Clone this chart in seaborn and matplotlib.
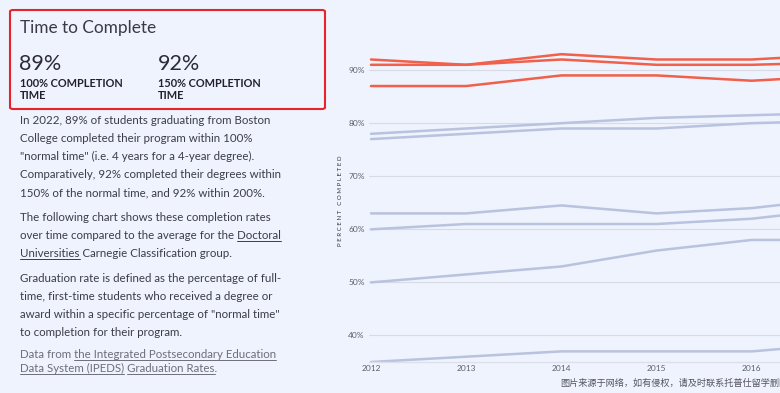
import numpy as np
import pandas as pd
import matplotlib.pyplot as plt
import seaborn as sns
from matplotlib.patches import FancyBboxPatch
from matplotlib.lines import Line2D

# completion rates (percent)
years = [2012, 2013, 2014, 2015, 2016, 2017]
bc_150 = [92, 91, 93, 92, 92, 93]
bc_200 = [91, 91, 92, 91, 91, 91.5]
bc_100 = [87, 87, 89, 89, 88, 89]
peer_1 = [78, 79, 80, 81, 81.5, 82]
peer_2 = [77, 78, 79, 79, 80, 80.5]
peer_3 = [63, 63, 64.5, 63, 64, 66]
peer_4 = [60, 61, 61, 61, 62, 64]
peer_5 = [50, 51.5, 53, 56, 58, 58]
peer_6 = [35, 36, 37, 37, 37, 38.5]
y_ticks = [40, 50, 60, 70, 80, 90]
x_ticks = [2012, 2013, 2014, 2015, 2016]

headline_vals = ['89%', '92%']
headline_labels = [('100% COMPLETION', 'TIME'), ('150% COMPLETION', 'TIME')]

BG = '#eef3fd'
RED = '#f0604a'
PURPLE = '#b9c2de'
TEXT = '#3c3c4a'
GREY = '#6e6e7c'

sns.set_theme(style='white')
plt.rcParams['font.family'] = ['Lato', 'Noto Sans CJK SC', 'DejaVu Sans']

W, H = 780, 393
def fx(x):
    return x / W
def fy(y):
    return 1 - y / H

series = {
    ('bc_150', 'Boston College'): bc_150,
    ('bc_200', 'Boston College'): bc_200,
    ('bc_100', 'Boston College'): bc_100,
    ('peer_1', 'Doctoral Universities'): peer_1,
    ('peer_2', 'Doctoral Universities'): peer_2,
    ('peer_3', 'Doctoral Universities'): peer_3,
    ('peer_4', 'Doctoral Universities'): peer_4,
    ('peer_5', 'Doctoral Universities'): peer_5,
    ('peer_6', 'Doctoral Universities'): peer_6,
}
rows = []
for (name, group), vals in series.items():
    for yr, v in zip(years, vals):
        rows.append({'year': yr, 'pct': v, 'series': name, 'group': group})
df = pd.DataFrame(rows)

fig = plt.figure(figsize=(W / 100, H / 100), dpi=100, facecolor=BG)

# chart on the right, cut off at the right edge like the screenshot
ax = fig.add_axes([fx(369), fy(362), fx(780) - fx(369), fy(30) - fy(362)])
ax.set_facecolor(BG)
sns.lineplot(data=df, x='year', y='pct', hue='group', units='series', estimator=None,
             palette={'Boston College': RED, 'Doctoral Universities': PURPLE},
             hue_order=['Doctoral Universities', 'Boston College'],
             linewidth=1.8, legend=False, ax=ax)
ax.set_xlim(2012 - 2 / 95.2, 2012 + 409 / 95.2)
ax.set_ylim(35, 35 + 332 / 5.307)
ax.set_yticks(y_ticks)
ax.set_yticklabels([f'{t}%' for t in y_ticks])
ax.set_xticks(x_ticks)
ax.set_xticklabels([str(t) for t in x_ticks])
ax.grid(axis='y', color='#d8dbe4', linewidth=0.8)
ax.tick_params(axis='both', length=0, labelsize=6, labelcolor='#5c6070')
ax.tick_params(axis='y', pad=3)
ax.tick_params(axis='x', pad=2.5)
ax.set_xlabel('')
ax.set_ylabel('')
for side in ['top', 'right', 'left']:
    ax.spines[side].set_visible(False)
ax.spines['bottom'].set_color('#dde0ea')
ax.spines['bottom'].set_linewidth(1)

fig.text(fx(341), fy(201), 'P E R C E N T   C O M P L E T E D', rotation=90,
         ha='center', va='center', fontsize=4.4, color='#333340')

# header box
fig.add_artist(FancyBboxPatch((fx(10), fy(109)), fx(325) - fx(10), fy(10) - fy(109),
                              boxstyle='round,pad=0,rounding_size=0.004',
                              transform=fig.transFigure, fill=False,
                              edgecolor='#e8232a', linewidth=1.5))
fig.text(fx(19.5), fy(33.3), 'Time to Complete', fontsize=12.4,
         color='#3a3a46', va='baseline')
for x0, val, (lab1, lab2) in zip([19.5, 157.5], headline_vals, headline_labels):
    fig.text(fx(x0), fy(70), val, fontsize=15.5, color='#2c2c38', va='baseline')
    fig.text(fx(x0 + 0.5), fy(86.7), lab1, fontsize=7.9, fontweight='bold',
             color='#22222e', va='baseline')
    fig.text(fx(x0 + 0.5), fy(99), lab2, fontsize=7.9, fontweight='bold',
             color='#22222e', va='baseline')

# body copy; (text, baseline y, colour, underlined part)
body = [
    ('In 2022, 89% of students graduating from Boston', 124, TEXT, None),
    ('College completed their program within 100%', 142, TEXT, None),
    ('"normal time" (i.e. 4 years for a 4-year degree).', 160, TEXT, None),
    ('Comparatively, 92% completed their degrees within', 178, TEXT, None),
    ('150% of the normal time, and 92% within 200%.', 196, TEXT, None),
    ('The following chart shows these completion rates', 221, TEXT, None),
    ('over time compared to the average for the Doctoral', 239, TEXT, 'Doctoral'),
    ('Universities Carnegie Classification group.', 257, TEXT, 'Universities'),
    ('Graduation rate is defined as the percentage of full-', 282.5, TEXT, None),
    ('time, first-time students who received a degree or', 300.5, TEXT, None),
    ('award within a specific percentage of "normal time"', 318.5, TEXT, None),
    ('to completion for their program.', 336.5, TEXT, None),
    ('Data from the Integrated Postsecondary Education', 358, GREY,
     'the Integrated Postsecondary Education'),
    ('Data System (IPEDS) Graduation Rates.', 372, GREY, 'Data System (IPEDS)'),
    ('Data System (IPEDS) Graduation Rates.', 372, GREY, 'Graduation Rates'),
]
BODY_FS = 8.3
renderer = fig.canvas.get_renderer()
drawn = set()
for line, yb, col, under in body:
    if (line, yb) not in drawn:
        fig.text(fx(20), fy(yb), line, fontsize=BODY_FS, color=col, va='baseline')
        drawn.add((line, yb))
    if under:
        i = line.index(under) + len(under)
        t_full = fig.text(0, 0, line[:i], fontsize=BODY_FS)
        t_word = fig.text(0, 0, under, fontsize=BODY_FS)
        x_end = 20 + t_full.get_window_extent(renderer).width
        x_start = x_end - t_word.get_window_extent(renderer).width
        t_full.remove()
        t_word.remove()
        fig.add_artist(Line2D([fx(x_start), fx(x_end)], [fy(yb + 2.2), fy(yb + 2.2)],
                              transform=fig.transFigure, color=col, linewidth=0.7))

# repost watermark, runs off the right edge as in the screenshot
fig.text(fx(560), fy(383), '图片来源于网络，如有侵权，请及时联系托普仕留学删除',
         fontsize=6.6, color='#555560', va='center',
         family=['Noto Sans CJK SC', 'DejaVu Sans'])

fig.savefig('out.png', dpi=100, facecolor=BG)
